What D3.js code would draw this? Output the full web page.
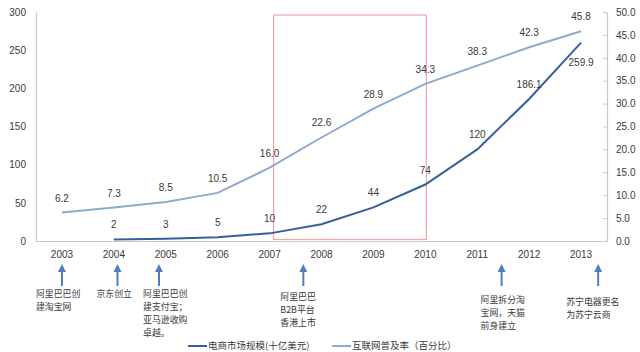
<!DOCTYPE html>
<html>
<head>
<meta charset="utf-8">
<script src="https://cdn.jsdelivr.net/npm/d3@7"></script>
<style>
  body { margin: 0; background: #fff; }
  text { font-family: "Liberation Sans", "Noto Sans CJK SC", sans-serif; }
</style>
</head>
<body>
<div id="chart"></div>
<script>
// data
var years = [2003, 2004, 2005, 2006, 2007, 2008, 2009, 2010, 2011, 2012, 2013];
var marketSize = [null, 2, 3, 5, 10, 22, 44, 74, 120, 186.1, 259.9];
var penetration = [6.2, 7.3, 8.5, 10.5, 16.0, 22.6, 28.9, 34.3, 38.3, 42.3, 45.8];
var leftTicks = [0, 50, 100, 150, 200, 250, 300];
var rightTicks = [0, 5, 10, 15, 20, 25, 30, 35, 40, 45, 50];
var seriesNames = ["电商市场规模(十亿美元)", "互联网普及率（百分比）"];
var eventYears = [2003, 2004, 2005, 2007, 2011, 2013];
var eventTexts = [
    ["阿里巴巴创", "建淘宝网"],
    ["京东创立"],
    ["阿里巴巴创", "建支付宝；", "亚马逊收购", "卓越。"],
    ["阿里巴巴", "B2B平台", "香港上市"],
    ["阿里拆分淘", "宝网，天猫", "前身建立"],
    ["苏宁电器更名", "为苏宁云商"]
];

// layout
var width = 640, height = 352;
var darkColor = "#36609c", lightColor = "#8eaacf", arrowColor = "#4f7fbf";
var textColor = "#3a3a3a", axisColor = "#c8c8c8";
var arrowShift = [0, 0.07, -0.13, 0.65, 0.47, 0.33];   // in bands, from band center
var eventDx = [-26, -21, -16, -23, -21, -32];
var eventTop = [297, 297, 297, 300, 303, 305];
var noteSize = 8.9, noteLead = 13;

var svg = d3.select("#chart").append("svg")
    .attr("width", width)
    .attr("height", height);

var x = d3.scaleBand().domain(years).range([36, 607]);
var cx = function(d){ return x(d) + x.bandwidth() / 2; };
var yL = d3.scaleLinear().domain([0, 300]).range([241, 12]);
var yR = d3.scaleLinear().domain([0, 50]).range([241, 12]);

// axes
var leftAxis = svg.append("g")
    .attr("transform", "translate(36,0)")
    .call(d3.axisLeft(yL).tickValues(leftTicks).tickSize(0).tickPadding(10));

var rightAxis = svg.append("g")
    .attr("transform", "translate(607,0)")
    .call(d3.axisRight(yR).tickValues(rightTicks).tickSizeInner(-4).tickSizeOuter(0)
        .tickPadding(9).tickFormat(d3.format(".1f")));

var bottomAxis = svg.append("g")
    .attr("transform", "translate(0,241)")
    .call(d3.axisBottom(x).tickSize(0).tickPadding(10).tickSizeOuter(0));

[leftAxis, rightAxis, bottomAxis].forEach(function(g){
    g.select(".domain").attr("stroke", axisColor).attr("stroke-width", 1.2);
    g.selectAll(".tick line").attr("stroke", axisColor);
    g.selectAll("text").attr("fill", textColor).style("font-size", "10px")
        .style("font-family", "'Liberation Sans', sans-serif");
});

// highlight box 2007-2010
svg.append("rect")
    .attr("x", cx(2007) + 4)
    .attr("y", yL(296))
    .attr("width", cx(2010) - cx(2007) - 3)
    .attr("height", yL(2) - yL(296))
    .attr("fill", "none")
    .attr("stroke", "#f2a5a5")
    .attr("stroke-width", 1.2);

// lines
var lightLine = d3.line()
    .x(function(d, i){ return cx(years[i]); })
    .y(function(d){ return yR(d); });

var darkLine = d3.line()
    .defined(function(d){ return d !== null; })
    .x(function(d, i){ return cx(years[i]); })
    .y(function(d){ return yL(d); });

svg.append("path")
    .attr("d", lightLine(penetration))
    .attr("fill", "none")
    .attr("stroke", lightColor)
    .attr("stroke-width", 2);

svg.append("path")
    .attr("d", darkLine(marketSize))
    .attr("fill", "none")
    .attr("stroke", darkColor)
    .attr("stroke-width", 2);

// value labels
svg.selectAll(".lbl-light")
    .data(penetration)
    .enter()
    .append("text")
    .attr("x", function(d, i){ return cx(years[i]); })
    .attr("y", function(d){ return yR(d) - 11; })
    .attr("text-anchor", "middle")
    .attr("fill", textColor)
    .style("font-size", "10px")
    .text(function(d){ return d.toFixed(1); });

svg.selectAll(".lbl-dark")
    .data(marketSize.filter(function(d){ return d !== null; }))
    .enter()
    .append("text")
    .attr("x", function(d, i){ return cx(years[i + 1]); })
    .attr("y", function(d, i){ return i === 9 ? yL(d) + 23 : yL(d) - 11; })
    .attr("text-anchor", "middle")
    .attr("fill", textColor)
    .style("font-size", "10px")
    .text(function(d){ return d; });

// event arrows and notes
eventYears.forEach(function(yr, i){
    var ax = cx(yr) + arrowShift[i] * x.bandwidth();
    svg.append("line")
        .attr("x1", ax).attr("x2", ax)
        .attr("y1", 270).attr("y2", 286)
        .attr("stroke", arrowColor)
        .attr("stroke-width", 2);
    svg.append("path")
        .attr("d", "M" + (ax - 4) + ",272L" + ax + ",264L" + (ax + 4) + ",272Z")
        .attr("fill", arrowColor);
    eventTexts[i].forEach(function(line, j){
        svg.append("text")
            .attr("x", ax + eventDx[i])
            .attr("y", eventTop[i] + j * noteLead)
            .attr("fill", textColor)
            .style("font-size", noteSize + "px")
            .style("font-family", "'Noto Sans CJK SC', sans-serif")
            .text(line);
    });
});

// legend
var legendX = [188, 332];
var legendColors = [darkColor, lightColor];
seriesNames.forEach(function(name, i){
    svg.append("line")
        .attr("x1", legendX[i]).attr("x2", legendX[i] + 19)
        .attr("y1", 346).attr("y2", 346)
        .attr("stroke", legendColors[i])
        .attr("stroke-width", 2);
    svg.append("text")
        .attr("x", legendX[i] + 20)
        .attr("y", 349)
        .attr("fill", textColor)
        .style("font-size", "9.5px")
        .style("font-family", "'Noto Sans CJK SC', sans-serif")
        .text(name);
});
</script>
</body>
</html>
